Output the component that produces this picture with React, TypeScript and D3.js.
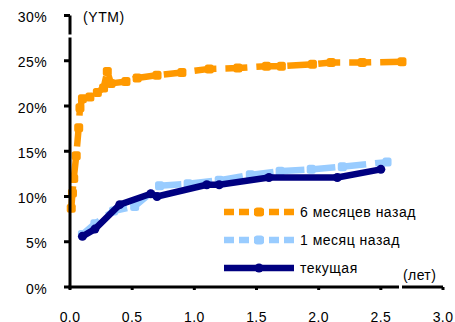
import React from 'react'
import * as d3 from 'd3'

// yield curves, years -> YTM %
const sixMonthsAgo: [number, number][] = [
  [0.01, 8.7], [0.02, 10.4], [0.03, 12.0], [0.05, 14.5], [0.07, 17.6], [0.08, 19.8],
  [0.1, 20.8], [0.16, 21.0], [0.22, 21.5], [0.27, 22.0], [0.3, 23.8], [0.33, 22.5],
  [0.45, 22.7], [0.54, 23.1], [0.7, 23.4], [0.9, 23.7], [1.12, 24.1], [1.35, 24.2],
  [1.58, 24.4], [1.7, 24.4], [1.95, 24.6], [2.1, 24.8], [2.35, 24.8], [2.67, 24.9]
]
const oneMonthAgo: [number, number][] = [
  [0.1, 5.8], [0.2, 7.0], [0.35, 8.4], [0.52, 8.9], [0.72, 11.2], [0.95, 11.4],
  [1.2, 11.8], [1.45, 12.4], [1.69, 12.8], [1.94, 13.0], [2.19, 13.3], [2.55, 13.8]
]
const current: [number, number][] = [
  [0.1, 5.6], [0.2, 6.4], [0.4, 9.1], [0.65, 10.3], [0.7, 10.0], [1.1, 11.3],
  [1.2, 11.3], [1.6, 12.1], [2.15, 12.1], [2.5, 13.0]
]

const yTicks = [0, 5, 10, 15, 20, 25, 30]
const xTicks = [0, 0.5, 1, 1.5, 2, 2.5, 3]
const seriesNames = ['6 месяцев назад', '1 месяц назад', 'текущая']

const WIDTH = 455
const HEIGHT = 322
const FONT = 'Liberation Sans, Arial, sans-serif'
const FS = 14

const series = [
  { name: seriesNames[0], data: sixMonthsAgo, color: '#FF9900', dash: '22 9', legendDash: '10 5', marker: 'square' },
  { name: seriesNames[1], data: oneMonthAgo, color: '#99CCFF', dash: '22 9', legendDash: '10 5', marker: 'square' },
  { name: seriesNames[2], data: current, color: '#000080', dash: null, legendDash: null, marker: 'circle' }
]

const Marker = ({ x, y, color, kind }: { x: number; y: number; color: string; kind: string }) =>
  kind === 'circle'
    ? <circle cx={x} cy={y} r={4.5} fill={color} />
    : <rect x={x - 4.5} y={y - 4.5} width={9} height={9} rx={2.5} fill={color} />

const App = () => {
  const x = d3.scaleLinear().domain([0, 3]).range([70, 443])
  const y = d3.scaleLinear().domain([0, 30]).range([287, 15.5])

  const line = d3.line<[number, number]>()
    .x(d => x(d[0]))
    .y(d => y(d[1]))

  const legendY = [212, 240, 268]

  return (
    <div style={{ position: 'absolute', left: 0, top: 0 }}>
      <svg width={WIDTH} height={HEIGHT} style={{ display: 'block', background: '#fff' }} fontFamily={FONT}>
        {/* данные */}
        {series.map(s => (
          <g key={s.name}>
            <path d={line(s.data) || ''} fill="none" stroke={s.color} strokeWidth={6.5}
              strokeDasharray={s.dash || undefined} strokeLinejoin="round" />
            {s.data.map((d, i) => <Marker key={i} x={x(d[0])} y={y(d[1])} color={s.color} kind={s.marker} />)}
          </g>
        ))}

        {/* ось y */}
        <line x1={x(0)} y1={y(30)} x2={x(0)} y2={y(0) + 1.5} stroke="#000" strokeWidth={3} />
        <rect x={x(0) - 3} y={34.5} width={6} height={3} fill="#fff" />
        {yTicks.map(t => (
          <g key={t}>
            <line x1={x(0) - 6} y1={y(t)} x2={x(0)} y2={y(t)} stroke="#000" strokeWidth={3} />
            <text x={47} y={y(t) + 6.5} fontSize={FS} letterSpacing={0.4} textAnchor="end" fill="#000">{t}%</text>
          </g>
        ))}
        <text x={83} y={22} fontSize={FS} letterSpacing={0.6} fill="#000">(YTM)</text>

        {/* ось x */}
        <line x1={x(0) - 1.5} y1={y(0)} x2={x(3)} y2={y(0)} stroke="#000" strokeWidth={3} />
        <rect x={399} y={y(0) - 3} width={3} height={6} fill="#fff" />
        {xTicks.map(t => (
          <g key={t}>
            <line x1={x(t)} y1={y(0)} x2={x(t)} y2={y(0) + 3} stroke="#000" strokeWidth={3} />
            <text x={x(t)} y={322} fontSize={FS} letterSpacing={0.4} textAnchor="middle" fill="#000">{t.toFixed(1)}</text>
          </g>
        ))}
        <text x={403} y={280} fontSize={FS} letterSpacing={0.4} fill="#000">(лет)</text>

        {/* легенда */}
        {series.map((s, i) => (
          <g key={s.name}>
            <rect x={222} y={legendY[i] - 6} width={74} height={12} fill="#fff" />
            <line x1={224} y1={legendY[i]} x2={294} y2={legendY[i]} stroke={s.color} strokeWidth={6.5}
              strokeDasharray={s.legendDash || undefined} />
            <Marker x={259} y={legendY[i]} color={s.color} kind={s.marker} />
            <text x={300} y={legendY[i] + 5} fontSize={FS} letterSpacing={0.5} fill="#000">{s.name}</text>
          </g>
        ))}
      </svg>
    </div>
  )
}

export default App
